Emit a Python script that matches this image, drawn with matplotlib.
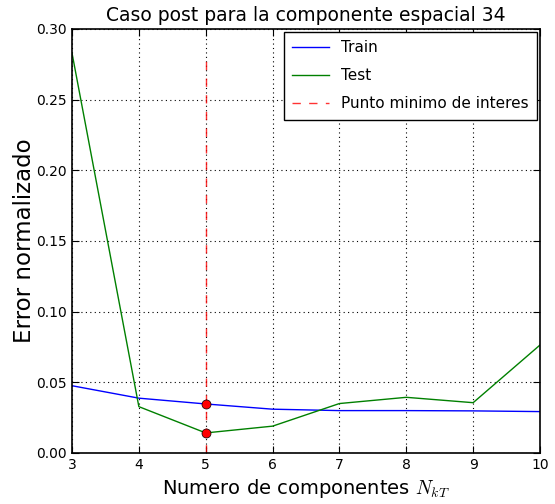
import matplotlib
matplotlib.use("Agg")
import matplotlib.pyplot as plt
import numpy as np

# Data
n_comp = [3, 4, 5, 6, 7, 8, 9, 10]
train = [0.0476, 0.0388, 0.0347, 0.0310, 0.0300, 0.0300, 0.0298, 0.0293]
test = [0.283, 0.0328, 0.0142, 0.0190, 0.0350, 0.0394, 0.0356, 0.0764]
k_min = 5
line_top = 0.278

plt.rcParams['font.family'] = 'DejaVu Sans'
plt.rcParams['mathtext.fontset'] = 'cm'

fig = plt.figure(figsize=(5.55, 5.04), dpi=100)
ax = fig.add_axes([72/555, 1 - 453/504, (540-72)/555, (453-29)/504])

ax.plot(n_comp, train, color='b', lw=1, label='Train')
ax.plot(n_comp, test, color='g', lw=1, label='Test')
ax.vlines(k_min, 0, line_top, colors='r', linestyles=(0, (6, 6)), lw=1,
          alpha=0.8, label='Punto minimo de interes')
i = n_comp.index(k_min)
ax.plot([k_min, k_min], [train[i], test[i]], 'o', color='r', mec='k',
        mew=0.5, ms=6.5, zorder=5)

ax.set_xlim(3, 10)
ax.set_ylim(0, 0.30)
ax.set_yticks(np.arange(0, 0.301, 0.05))
ax.set_yticklabels(['%.2f' % v for v in np.arange(0, 0.301, 0.05)])
ax.grid(True, color='k', linestyle=(0, (1, 3)), lw=0.8)
ax.tick_params(direction='in', length=5, labelsize=10, top=True, right=True)
for s in ax.spines.values():
    s.set_linewidth(1.2)

ax.set_title('Caso post para la componente espacial 34', fontsize=13.5)
ax.set_xlabel('Numero de componentes $N_{kT}$', fontsize=14)
ax.set_ylabel('Error normalizado', fontsize=16.5, labelpad=0)

leg = ax.legend(loc='upper right', fontsize=11, fancybox=False,
                framealpha=1, edgecolor='k', borderaxespad=0.2,
                handlelength=2.4, labelspacing=0.85, borderpad=0.55)
leg.get_frame().set_linewidth(1)

fig.savefig('out.png', dpi=100)
